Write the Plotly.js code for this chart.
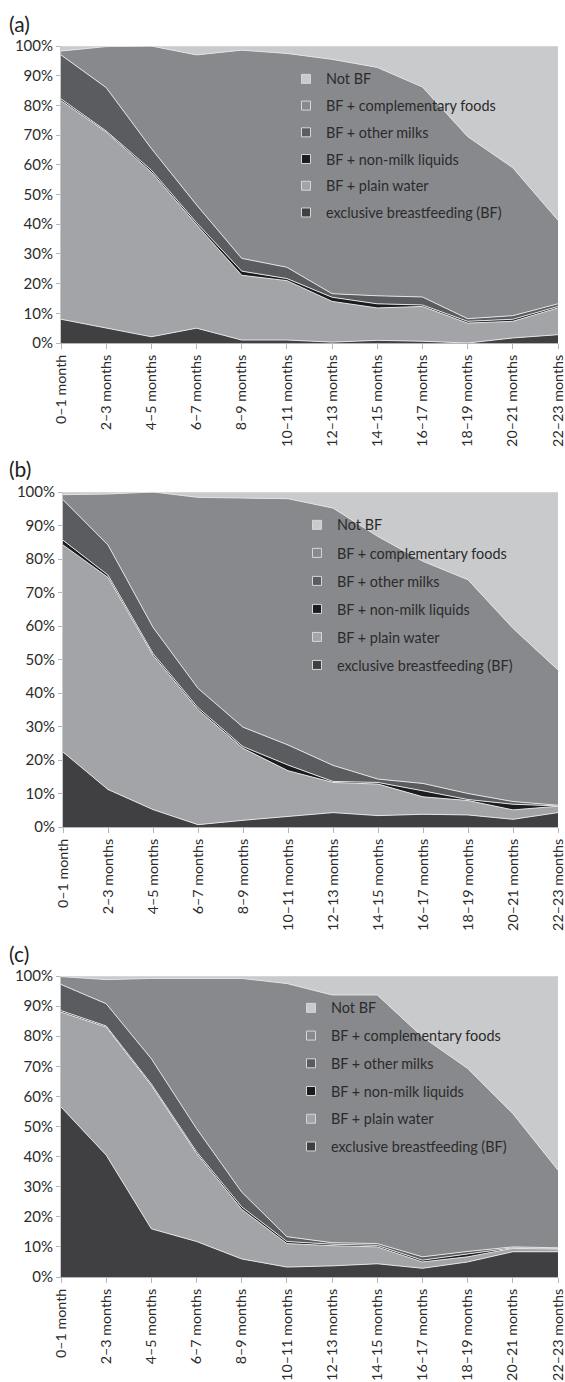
<!DOCTYPE html>
<html>
<head>
<meta charset="utf-8">
<script src="https://cdn.plot.ly/plotly-3.0.1.min.js"></script>
<style>
  html, body { margin: 0; padding: 0; background: #ffffff; }
  #chart { width: 565px; height: 1382px; }
</style>
</head>
<body>
<div id="chart"></div>
<script>
// ---- categories ----
const months = ['0–1 month', '2–3 months', '4–5 months', '6–7 months', '8–9 months', '10–11 months',
                '12–13 months', '14–15 months', '16–17 months', '18–19 months', '20–21 months', '22–23 months'];

const seriesNames = ['exclusive breastfeeding (BF)', 'BF + plain water', 'BF + non-milk liquids',
                     'BF + other milks', 'BF + complementary foods', 'Not BF'];

const yTickVals = [0, 10, 20, 30, 40, 50, 60, 70, 80, 90, 100];

// ---- panel (a) values, % ----
const aExclusive     = [8, 5, 2.1, 5, 1, 1, 0.3, 0.9, 0.6, 0, 1.7, 2.8];
const aPlainWater    = [73.6, 66, 55.4, 34.8, 21.8, 20, 13.7, 10.9, 11.7, 6.7, 5.6, 9];
const aNonMilk       = [0.6, 0.4, 0.7, 0.7, 1.4, 0.7, 1.4, 1.4, 0.5, 0.6, 0.7, 0.5];
const aOtherMilks    = [14.8, 14.6, 7.3, 6, 4.3, 3.8, 1.2, 2.7, 2.7, 0.9, 1.2, 0.9];
const aComplementary = [1.3, 13.8, 34.5, 50.5, 70.1, 72, 78.9, 76.9, 70.7, 61.3, 49.8, 28.1];
const aNotBF         = [1.7, 0.2, 0, 3, 1.4, 2.5, 4.5, 7.2, 13.8, 30.5, 41, 58.7];

// ---- panel (b) values, % ----
const bExclusive     = [22.4, 11.2, 5.2, 0.7, 2, 3.1, 4.3, 3.4, 3.8, 3.6, 2.3, 4.3];
const bPlainWater    = [61.8, 63.3, 46, 34.3, 21.5, 13.7, 9, 9.4, 5.2, 4.3, 2.8, 1.9];
const bNonMilk       = [1.4, 0.7, 0.6, 0.6, 0.5, 1.7, 0.3, 0.5, 1.8, 0.3, 1.7, 0.1];
const bOtherMilks    = [12.1, 9, 7.8, 5.8, 5.8, 6, 4.8, 1, 2.2, 1.8, 0.8, 0.2];
const bComplementary = [1.5, 15.2, 40.4, 57, 68.4, 73.5, 76.8, 72.4, 66.3, 63.8, 51.7, 40.4];
const bNotBF         = [0.8, 0.6, 0, 1.6, 1.8, 2, 4.8, 13.3, 20.7, 26.2, 40.7, 53.1];

// ---- panel (c) values, % ----
const cExclusive     = [56.5, 40.5, 16, 11.8, 6, 3.3, 3.7, 4.4, 2.9, 5, 8.4, 8.4];
const cPlainWater    = [31.5, 42.5, 47.6, 29.2, 16.5, 7.8, 6.7, 5.6, 2.1, 1.7, 1.1, 0.9];
const cNonMilk       = [0.5, 0.4, 0.5, 0.6, 0.8, 0.7, 0.5, 0.5, 0.6, 0.9, 0.2, 0.2];
const cOtherMilks    = [8.7, 7.4, 8.4, 7.7, 4.9, 1.6, 0.5, 0.6, 1.1, 0.9, 0.3, 0.2];
const cComplementary = [2.6, 8, 26.7, 50, 71, 84.1, 82.3, 82.6, 73.1, 60.8, 44.3, 25.8];
const cNotBF         = [0.2, 1.2, 0.8, 0.7, 0.8, 2.5, 6.3, 6.3, 20.2, 30.7, 45.7, 64.5];

// ---- styling ----
const colors = ['#404043', '#a3a4a7', '#1c1c1e', '#5b5c5f', '#88898d', '#c9cacc'];
const FONT = 'Lato, "Open Sans", sans-serif';
const TXT = '#2b2b2b';
const H = 1382;

const panels = [
  { key: 'a', label: '(a)', xa: 'x',  ya: 'y',  legend: 'legend',
    data: [aExclusive, aPlainWater, aNonMilk, aOtherMilks, aComplementary, aNotBF],
    top: 46, bottom: 343, left: 0, labelY: 24, legX: 286, legY: 63, gap: 5 },
  { key: 'b', label: '(b)', xa: 'x2', ya: 'y2', legend: 'legend2',
    data: [bExclusive, bPlainWater, bNonMilk, bOtherMilks, bComplementary, bNotBF],
    top: 492, bottom: 827, left: 2, labelY: 469, legX: 297, legY: 509, gap: 6.3 },
  { key: 'c', label: '(c)', xa: 'x3', ya: 'y3', legend: 'legend3',
    data: [cExclusive, cPlainWater, cNonMilk, cOtherMilks, cComplementary, cNotBF],
    top: 976, bottom: 1277, left: 0, labelY: 953, legX: 291, legY: 992, gap: 6 }
];

const L = 61, R = 7, W = 565;
const plotW = W - L - R;

const traces = [];
const layout = {
  width: W, height: H,
  margin: { l: L, r: R, t: 0, b: 0, autoexpand: false },
  paper_bgcolor: '#ffffff',
  plot_bgcolor: '#ffffff',
  font: { family: FONT, size: 14, color: TXT },
  showlegend: true,
  annotations: []
};

panels.forEach((p, pi) => {
  p.data.forEach((vals, i) => {
    traces.push({
      type: 'scatter', mode: 'lines',
      x: months, y: vals,
      xaxis: p.xa, yaxis: p.ya,
      stackgroup: p.key,
      line: { color: '#e2e2e2', width: 1, shape: 'linear' },
      fillcolor: colors[i],
      name: seriesNames[i],
      showlegend: false,
      hoverinfo: 'skip'
    });
  });
  for (let i = 5; i >= 0; i--) {
    traces.push({
      type: 'scatter', mode: 'markers',
      x: [null], y: [null],
      xaxis: p.xa, yaxis: p.ya,
      name: seriesNames[i],
      legend: p.legend,
      legendgroup: p.key + i,
      showlegend: true,
      marker: { symbol: 'square', size: 9, color: colors[i], line: { color: '#d6d6d6', width: 1 } }
    });
  }

  const sfx = pi === 0 ? '' : String(pi + 1);
  layout['xaxis' + sfx] = {
    domain: [p.left / plotW, 1],
    anchor: 'y' + sfx,
    type: 'category',
    categoryorder: 'array',
    categoryarray: months,
    range: [0, months.length - 1],
    showgrid: false, zeroline: false,
    showline: true, linecolor: '#b5b5b5', linewidth: 1,
    ticks: 'outside', ticklen: 5, tickcolor: '#b5b5b5',
    tickangle: -90,
    tickfont: { family: FONT, size: 14.3, color: TXT },
    fixedrange: true
  };
  layout['yaxis' + sfx] = {
    domain: [1 - p.bottom / H, 1 - p.top / H],
    anchor: 'x' + sfx,
    range: [0, 100],
    tickvals: yTickVals,
    ticktext: yTickVals.map(v => v + '%'),
    showgrid: false, zeroline: false,
    showline: true, linecolor: '#c8c8c8', linewidth: 1,
    ticks: 'outside', ticklen: 4, tickcolor: '#b5b5b5',
    tickfont: { family: FONT, size: 15, color: TXT },
    fixedrange: true
  };
  layout[p.legend] = {
    x: (p.legX - L) / plotW, xanchor: 'left',
    y: 1 - p.legY / H, yanchor: 'top',
    xref: 'paper', yref: 'paper',
    bgcolor: 'rgba(0,0,0,0)', borderwidth: 0,
    traceorder: 'grouped', tracegroupgap: p.gap,
    font: { family: FONT, size: 14.4, color: TXT }
  };
  layout.annotations.push({
    text: p.label, xref: 'paper', yref: 'paper',
    x: (7 - L) / plotW, xanchor: 'left',
    y: 1 - p.labelY / H, yanchor: 'middle',
    showarrow: false,
    font: { family: FONT, size: 21, color: '#222222' }
  });
});

Plotly.newPlot('chart', traces, layout, { staticPlot: true, displayModeBar: false });
</script>
</body>
</html>
